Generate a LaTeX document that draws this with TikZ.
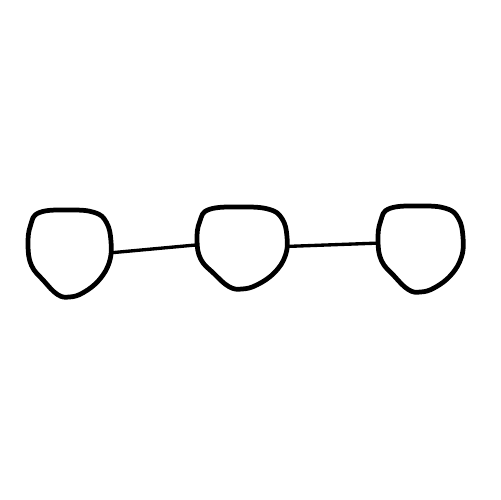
\documentclass[tikz,border=0pt]{standalone}
\usepackage{tikz}
\usetikzlibrary{shapes.geometric}

\tikzset{
    ring/.style={ellipse, draw=none, inner sep=0pt, outer sep=0pt},
    blobline/.style={line width=2.7pt, line join=round},
    link/.style={line width=1.9pt, line cap=round}
}

% contorno desenhado a mao em torno de (#1,#2), escala #3 x #4
\newcommand{\blobshape}[4]{%
    \draw[blobline, shift={(#1,#2)}, xscale=#3, yscale=#4]
        plot[smooth cycle, tension=0.7] coordinates {
        (-30,-41) (0,-43.5) (25,-41) (37,-31) (41.5,-12) (40,8) (30,26)
        (14,39) (0,43.5) (-12,41) (-26,27) (-38,12) (-41.5,-8) (-39,-28)};
}

\begin{document}
\begin{tikzpicture}[x=0.02cm, y=-0.02cm]
    \useasboundingbox (0,0) rectangle (500,500);

    % tres circulos
    \node[ring, minimum width=83*0.02cm, minimum height=87*0.02cm] (c1) at (69.5,253.5) {};
    \node[ring, minimum width=90*0.02cm, minimum height=82*0.02cm] (c2) at (242,248) {};
    \node[ring, minimum width=85*0.02cm, minimum height=86*0.02cm] (c3) at (420.5,249) {};

    \blobshape{69.5}{253.5}{1}{1}
    \blobshape{242}{248}{1.084}{0.943}
    \blobshape{420.5}{249}{1.024}{0.989}

    % ligacoes
    \draw[link] (c1.1) -- (c2.176);
    \draw[link] (c2.2) -- (c3.172);
\end{tikzpicture}
\end{document}
